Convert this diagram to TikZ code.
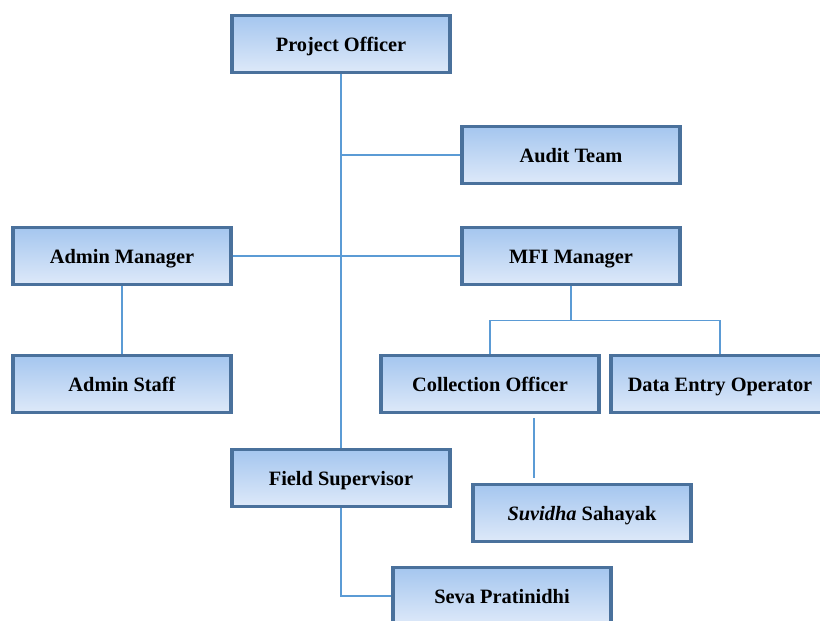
\documentclass[tikz,border=0pt]{standalone}
\usepackage{fontspec}
\setmainfont{Liberation Serif}
\usetikzlibrary{calc}
\definecolor{rimblue}{HTML}{4A719C}
\definecolor{boxtop}{HTML}{A5C6EF}
\definecolor{boxbot}{HTML}{DDE9F9}
\definecolor{wireblue}{HTML}{5B9BD5}
\tikzset{
  post/.style={
    draw=rimblue,
    line width=1.8pt,
    top color=boxtop,
    bottom color=boxbot,
    minimum width=4.36cm,
    minimum height=1.14cm,
    text height=2.1ex,
    text depth=0.25ex,
    align=center,
    inner sep=2pt,
    font=\fontsize{11.6}{13}\selectfont\bfseries
  },
  wire/.style={draw=wireblue, line width=0.6pt}
}
\begin{document}
\begin{tikzpicture}[x=0.02cm, y=-0.02cm]
  \useasboundingbox (0,0) rectangle (820,620);
  \node[post] (po)  at (341,44)  {Project Officer};
  \node[post] (at)  at (571,155) {Audit Team};
  \node[post] (am)  at (122,256) {Admin Manager};
  \node[post] (mfi) at (571,256) {MFI Manager};
  \node[post] (as)  at (122,384) {Admin Staff};
  \node[post] (co)  at (490,384) {Collection Officer};
  \node[post] (deo) at (720,384) {Data Entry Operator};
  \node[post] (fs)  at (341,478) {Field Supervisor};
  \node[post] (ss)  at (582,513) {\textit{Suvidha} Sahayak};
  \node[post] (sp)  at (502,596) {Seva Pratinidhi};
  \coordinate (cotail) at (534,418);
  \coordinate (sstail) at (534,478);
  % main spine and side branches
  \draw[wire] (po.south) -- (fs.north);
  \draw[wire] (at.west) -- (at.west -| po.south);
  \draw[wire] (am.east) -- (mfi.west);
  \draw[wire] (am.south) -- (as.north);
  \draw[wire] (mfi.south) -- ++(0,34) -| (co.north);
  \draw[wire] (mfi.south) ++(0,34) -| (deo.north);
  \draw[wire] (cotail) -- (sstail);
  \draw[wire] (fs.south) |- (sp.west);
\end{tikzpicture}
\end{document}
